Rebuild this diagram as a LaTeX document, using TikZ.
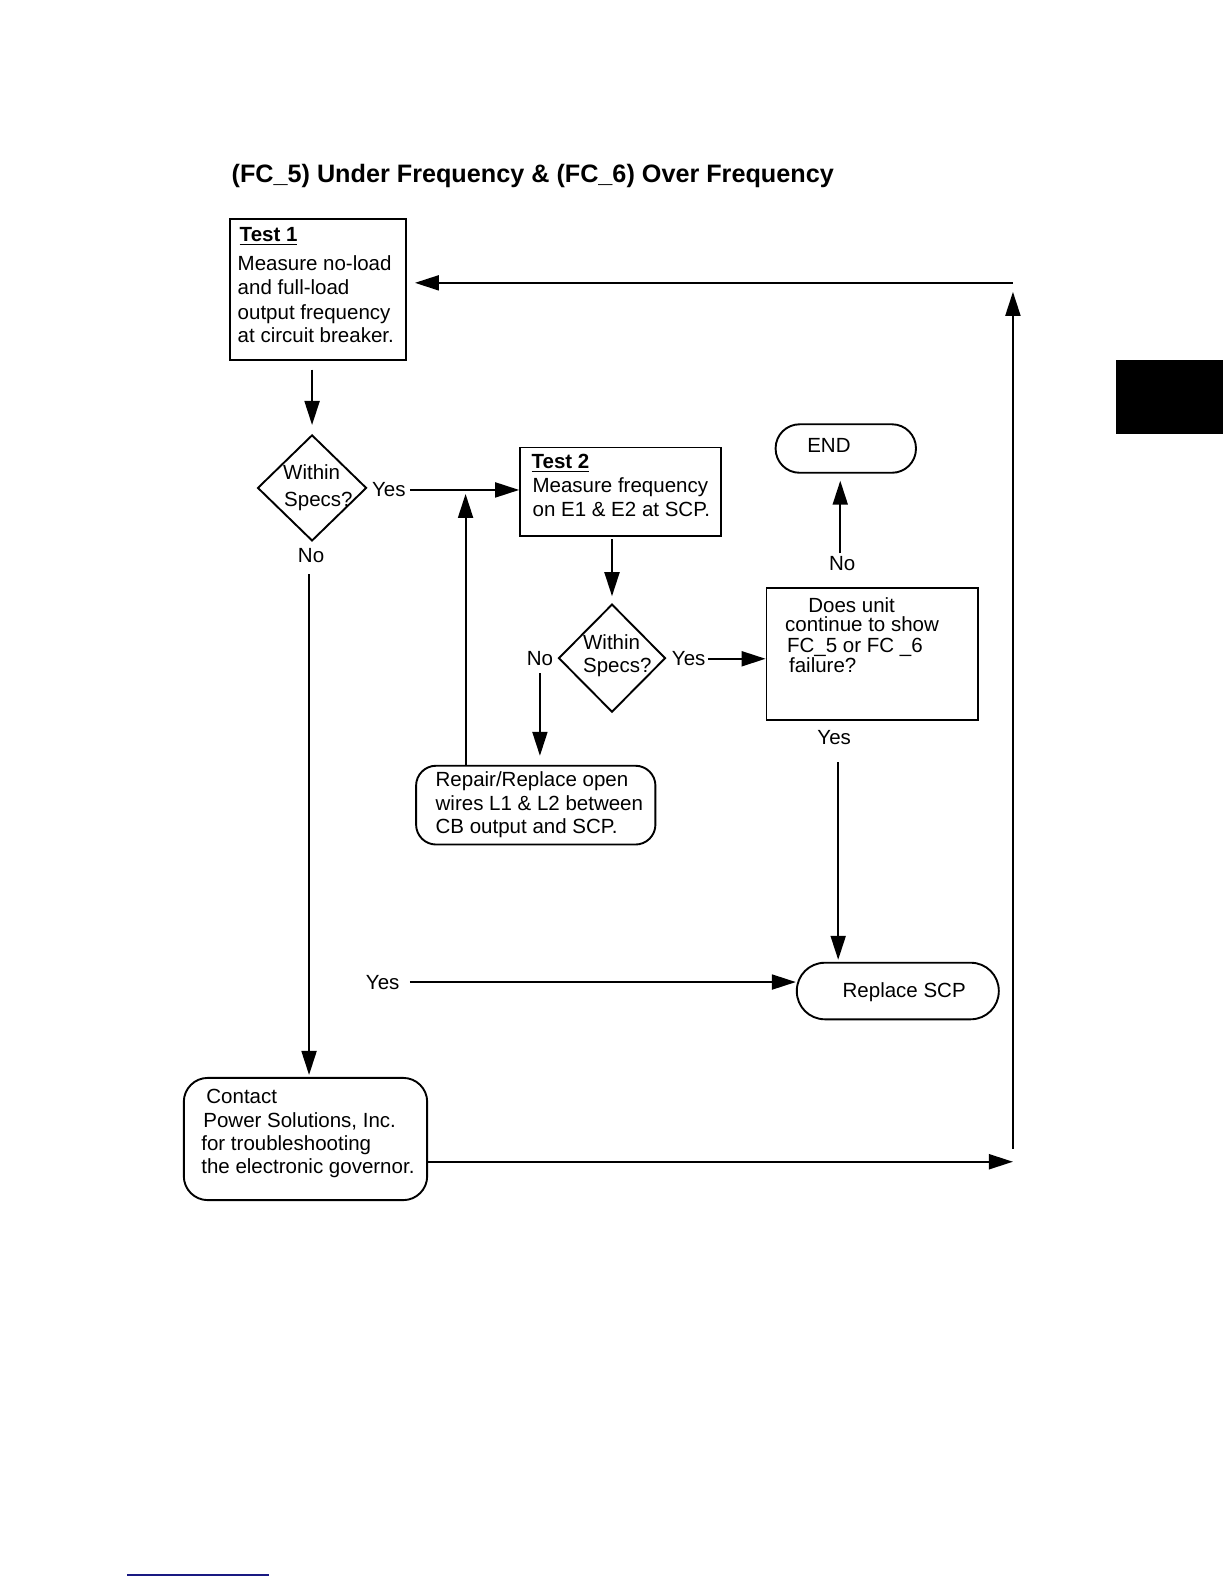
\documentclass[tikz,border=0pt]{standalone}
\usepackage{fontspec}
\setmainfont{Liberation Sans}
\usetikzlibrary{arrows.meta,shapes.geometric,fit}
\definecolor{navyc}{RGB}{25,25,130}
\begin{document}
\begin{tikzpicture}[x=0.50495pt,y=-0.50510pt,
  box/.style={draw,line width=0.95pt,inner sep=0pt},
  rbox/.style={box,rounded corners=#1},
  dia/.style={draw,diamond,line width=0.95pt,inner sep=0pt},
  arr/.style={line width=1pt,-{Triangle[length=12pt,width=7.5pt]}},
  txt/.style={inner sep=0pt,anchor=base west,font=\fontsize{10.25}{12}\selectfont},
  lab/.style={inner sep=0pt,font=\fontsize{10.25}{12}\selectfont},
]
\useasboundingbox (0,0) rectangle (1212,1568);

% title
\node[txt,font=\fontsize{12.6}{15}\selectfont\bfseries] (title) at (229,181) {(FC\_5) Under Frequency \& (FC\_6) Over Frequency};

% Test 1
\node[box,fit={(228,217) (402,356)}] (t1) {};
\node[txt] (t1h) at (237,239) {\underline{\textbf{Test 1}}};
\node[txt] (t1a) at (235,268) {Measure no-load};
\node[txt] (t1b) at (235,292) {and full-load};
\node[txt] (t1c) at (235,316) {output frequency};
\node[txt] (t1d) at (235,339) {at circuit breaker.};

% decision 1
\node[dia,minimum width=54.5pt,minimum height=53pt] (d1) at (309,483) {};
\node[txt] (d1a) at (280,475) {Within};
\node[txt] (d1b) at (281,501) {Specs?};
\node[lab,anchor=west] (yes1) at (368,485) {Yes};
\node[lab,anchor=base] (no1) at (308,557) {No};

% Test 2
\node[box,fit={(515,443) (714,531)}] (t2) {};
\node[txt] (t2h) at (526,464) {\underline{\textbf{Test 2}}};
\node[txt] (t2a) at (527,488) {Measure frequency};
\node[txt] (t2b) at (527,511) {on E1 \& E2 at SCP.};

% decision 2
\node[dia,minimum width=53.5pt,minimum height=54pt] (d2) at (606,651.5) {};
\node[txt] (d2a) at (577,643) {Within};
\node[txt] (d2b) at (577,666) {Specs?};
\node[lab,anchor=base east] (no2) at (548,659) {No};
\node[lab,anchor=base west] (yes2) at (665,659) {Yes};

% Does unit
\node[box,fit={(759,582) (968,713)}] (does) {};
\node[txt] (dsa) at (800,606) {Does unit};
\node[txt] (dsb) at (777,625) {continue to show};
\node[txt] (dsc) at (779,646) {FC\_5 or FC \_6};
\node[txt] (dsd) at (781,666) {failure?};

% END
\node[rbox=12pt,fit={(768,420) (907,468)}] (endn) {};
\node[txt] (endt) at (799,448) {END};
\node[lab,anchor=base] (no3) at (834,565) {No};
\node[lab,anchor=base] (yes3) at (826,737) {Yes};

% Repair
\node[rbox=10pt,fit={(412,758) (649,836)}] (repair) {};
\node[txt] (rpa) at (431,779) {Repair/Replace open};
\node[txt] (rpb) at (431,802) {wires L1 \& L2 between};
\node[txt] (rpc) at (431,825) {CB output and SCP.};

% Replace SCP
\node[rbox=14pt,fit={(789,953) (989,1009)}] (replace) {};
\node[txt] (rst) at (834,987) {Replace SCP};
\node[lab,anchor=base west] (yes4) at (362,979) {Yes};

% Contact
\node[rbox=12pt,fit={(182,1067) (423,1188)}] (contact) {};
\node[txt] (cta) at (204,1092) {Contact};
\node[txt] (ctb) at (201,1116) {Power Solutions, Inc.};
\node[txt] (ctc) at (199,1139) {for troubleshooting};
\node[txt] (ctd) at (199,1162) {the electronic governor.};

% helper coordinates
\coordinate (j1) at (461,485);
\coordinate (c1) at (1003,1150);
\coordinate (c2) at (1003,280);

% connectors
\draw[arr,shorten <=4.5pt,shorten >=4.5pt] (t1.south -| d1.north) -- (d1.north);
\draw[arr,shorten <=2pt] (yes1.east) -- (yes1.east -| t2.west);
\draw[arr,shorten <=5.5pt,shorten >=1pt] ([xshift=-1pt]no1.south) -- ([xshift=-1pt]no1.south |- contact.north);
\draw[arr,shorten <=1pt,shorten >=3.5pt] (t2.south -| d2.north) -- (d2.north);
\draw[arr,shorten <=3.5pt,shorten >=4.5pt] (no2.south) -- (no2.south |- repair.north);
\draw[arr,shorten <=1pt] (yes2.east) -- (yes2.east -| does.west);
\draw[arr,shorten <=1.5pt,shorten >=3.5pt] ([xshift=-1pt]no3.north) -- ([xshift=-1pt]no3.north |- endn.south);
\draw[arr,shorten <=8.5pt,shorten >=1pt] ([xshift=2pt]yes3.south) -- ([xshift=2pt]yes3.south |- replace.north);
\draw[arr,shorten >=2pt] (repair.north -| j1) -- (j1);
\draw[arr,shorten <=5pt] (yes4.east) -- (yes4.east -| replace.west);
\draw[arr] (contact.east |- c1) -- (c1);
\draw[arr,shorten <=6.5pt,shorten >=4.5pt] (c1) -- (c2);
\draw[arr,shorten >=4pt] (c2) -- (c2 -| t1.east);

% page decorations
\fill (1105,356) rectangle (1211,430);
\draw[line width=1pt,color=navyc] (126,1559) -- (266,1559);
\end{tikzpicture}
\end{document}
